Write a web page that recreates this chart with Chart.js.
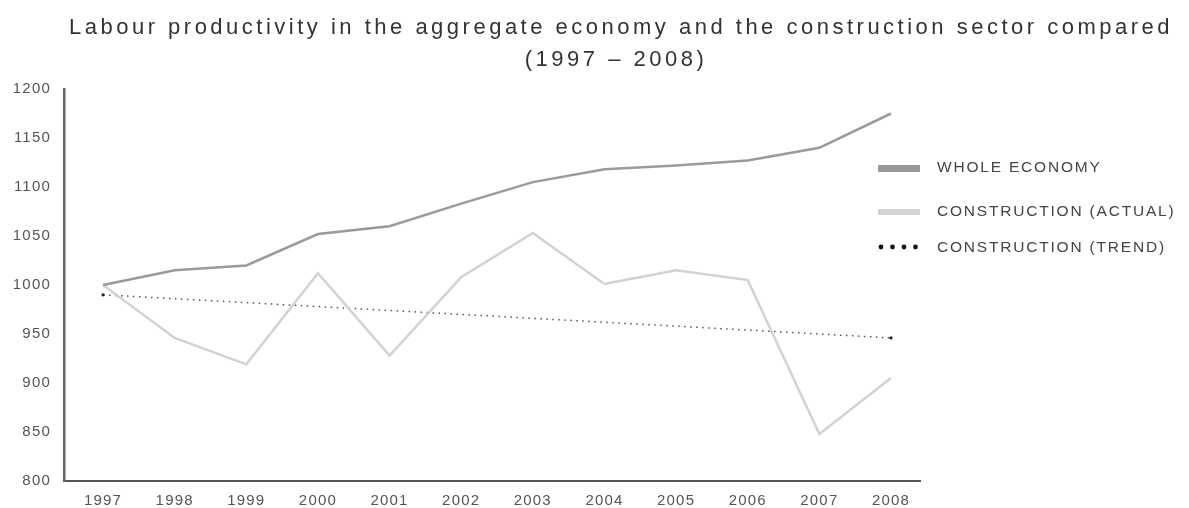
<!DOCTYPE html>
<html>
<head>
<meta charset="utf-8">
<script src="https://cdn.jsdelivr.net/npm/chart.js@4"></script>
<style>
  html, body { margin: 0; padding: 0; background: #fff; }
  #wrap { width: 1189px; height: 508px; position: relative; }
</style>
</head>
<body>
<div id="wrap"><canvas id="c" width="1189" height="508"></canvas></div>
<script>
const titleLines = ['Labour productivity in the aggregate economy and the construction sector compared', '(1997 \u2013 2008)'];
const years = [1997, 1998, 1999, 2000, 2001, 2002, 2003, 2004, 2005, 2006, 2007, 2008];
const wholeEconomy = [1000, 1015, 1020, 1052, 1060, 1083, 1105, 1118, 1122, 1127, 1140, 1175];
const constructionActual = [1000, 946, 919, 1012, 928, 1008, 1053, 1001, 1015, 1005, 848, 905];
const trendYears = [1997, 2008];
const constructionTrend = [990, 946];
const yTicks = [800, 850, 900, 950, 1000, 1050, 1100, 1150, 1200];
const seriesLabels = ['WHOLE ECONOMY', 'CONSTRUCTION (ACTUAL)', 'CONSTRUCTION (TREND)'];

const FONT = '"Liberation Sans", Arial, sans-serif';

const spacingPlugin = {
  id: 'spacing',
  beforeLayout(chart) { chart.ctx.letterSpacing = '1.2px'; },
  beforeDraw(chart) { chart.ctx.letterSpacing = '1.2px'; }
};

const decorPlugin = {
  id: 'decor',
  afterDraw(chart) {
    const ctx = chart.ctx;
    ctx.save();
    // title
    ctx.fillStyle = '#333';
    ctx.font = '22px ' + FONT;
    ctx.letterSpacing = '3.5px';
    ctx.textAlign = 'center';
    ctx.textBaseline = 'alphabetic';
    ctx.fillText(titleLines[0], 621, 34);
    ctx.fillText(titleLines[1], 616, 66);
    // legend
    ctx.letterSpacing = '1.8px';
    ctx.font = '15.5px ' + FONT;
    ctx.textAlign = 'left';
    ctx.textBaseline = 'middle';
    const rows = [168, 212, 248];
    ctx.fillStyle = '#999';
    ctx.fillRect(878, 165, 42, 7);
    ctx.fillStyle = '#d4d4d4';
    ctx.fillRect(878, 209, 42, 6);
    ctx.fillStyle = '#111';
    for (let i = 0; i < 4; i++) {
      ctx.beginPath();
      ctx.arc(881 + i * 11.5, 247, 2.4, 0, Math.PI * 2);
      ctx.fill();
    }
    ctx.fillStyle = '#444';
    seriesLabels.forEach((t, i) => ctx.fillText(t, 937, rows[i]));
    ctx.restore();
  }
};

new Chart(document.getElementById('c'), {
  type: 'line',
  data: {
    datasets: [
      {
        label: seriesLabels[0],
        data: years.map((y, i) => ({ x: y, y: wholeEconomy[i] })),
        borderColor: '#9a9a9a',
        borderWidth: 2.5,
        pointRadius: 0,
        tension: 0
      },
      {
        label: seriesLabels[1],
        data: years.map((y, i) => ({ x: y, y: constructionActual[i] })),
        borderColor: '#d2d2d2',
        borderWidth: 2.5,
        pointRadius: 0,
        tension: 0
      },
      {
        label: seriesLabels[2],
        data: trendYears.map((y, i) => ({ x: y, y: constructionTrend[i] })),
        borderColor: '#555',
        borderWidth: 1.5,
        borderDash: [1.5, 4.5],
        pointRadius: 1.6,
        pointBackgroundColor: '#222',
        pointBorderWidth: 0,
        tension: 0
      }
    ]
  },
  options: {
    responsive: false,
    animation: false,
    devicePixelRatio: 1,
    layout: { padding: { top: 89, right: 269, bottom: 0, left: 0 } },
    plugins: {
      legend: { display: false },
      title: { display: false },
      tooltip: { enabled: false }
    },
    scales: {
      x: {
        type: 'linear',
        min: 1996.455,
        max: 2008.405,
        afterBuildTicks(scale) { scale.ticks = years.map(v => ({ value: v })); },
        afterFit(scale) { scale.height = 27; },
        grid: { display: false, drawTicks: false },
        border: { display: true, color: '#555', width: 2 },
        ticks: {
          callback: v => String(v),
          color: '#555',
          font: { family: FONT, size: 15 },
          padding: 11,
          maxRotation: 0,
          autoSkip: false
        }
      },
      y: {
        type: 'linear',
        min: 800,
        max: 1200,
        afterBuildTicks(scale) { scale.ticks = yTicks.map(v => ({ value: v })); },
        afterFit(scale) { scale.width = 64; },
        grid: { display: false, drawTicks: false },
        border: { display: true, color: '#666', width: 2.5 },
        ticks: {
          callback: v => String(v),
          color: '#555',
          font: { family: FONT, size: 15 },
          padding: 13
        }
      }
    }
  },
  plugins: [spacingPlugin, decorPlugin]
});
</script>
</body>
</html>
